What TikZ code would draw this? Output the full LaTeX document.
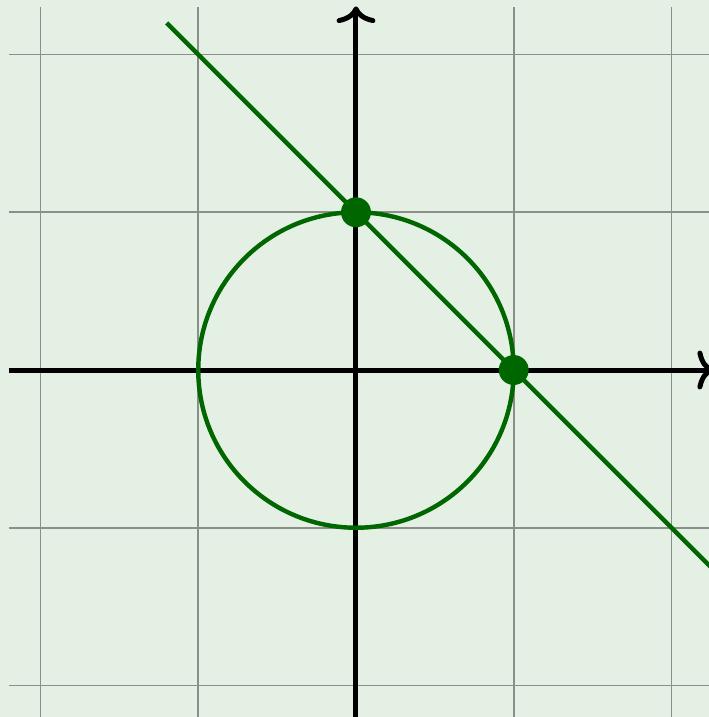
\documentclass[tikz,border=0pt]{standalone}
\usetikzlibrary{arrows.meta}
\definecolor{bg}{HTML}{E5F0E5}
\definecolor{dkgreen}{HTML}{006600}
\definecolor{gridgray}{HTML}{8A8F8A}
\tikzset{
  gridline/.style={draw=gridgray, line width=0.3pt},
  axisline/.style={line width=0.9pt, black, -{To[length=3pt,width=7pt]}},
  curve/.style={draw=dkgreen, line width=0.8pt},
  dot/.style={circle, fill=dkgreen, inner sep=0pt, minimum size=0.19cm}
}
\begin{document}
\begin{tikzpicture}
\fill[bg] (-2.257,-2.2) rectangle (2.238,2.346);
\useasboundingbox (-2.257,-2.2) rectangle (2.238,2.346);
\begin{scope}
\clip (-2.257,-2.2) rectangle (2.238,2.346);
\draw[gridline, step=1] (-2.2,-2.3) grid (2.3,2.3);
\coordinate (xs) at (-2.2,0);
\coordinate (xe) at (2.27,0);
\coordinate (ys) at (0,-2.3);
\coordinate (ye) at (0,2.305);
\draw[axisline] (xs) -- (xe);
\draw[axisline] (ys) -- (ye);
\coordinate (O) at (0,0);
\draw[curve] (O) circle[radius=1];
\coordinate (ls) at (-1.2,2.2);
\coordinate (le) at (2.4,-1.4);
\draw[curve] (ls) -- (le);
\node[dot] (A) at (0,1) {};
\node[dot] (B) at (1,0) {};
\end{scope}
\end{tikzpicture}
\end{document}
